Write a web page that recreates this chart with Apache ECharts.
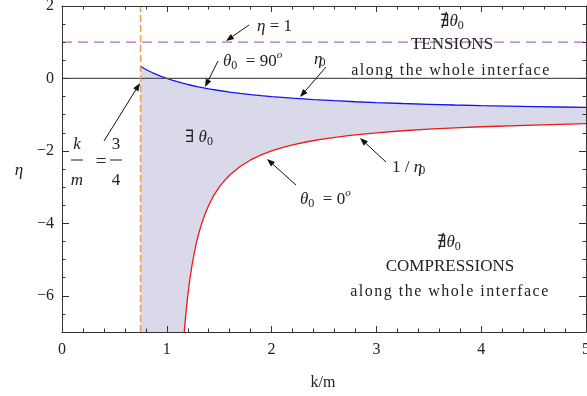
<!DOCTYPE html>
<html>
<head>
<meta charset="utf-8">
<script src="https://cdn.jsdelivr.net/npm/echarts@6/dist/echarts.min.js"></script>
<style>
  html, body { margin: 0; padding: 0; background: #fff; }
  #chart { width: 587px; height: 396px; }
</style>
</head>
<body>
<div id="chart"></div>
<script>
// eta_0 boundary (theta_0 = 90°) sampled along k/m
const etaX = [0.75, 0.78, 0.82, 0.86, 0.9, 0.95, 1.0, 1.05, 1.1, 1.15, 1.2, 1.3, 1.4, 1.5, 1.6, 1.7, 1.8, 1.9, 2.0, 2.2, 2.4, 2.6, 2.8, 3.0, 3.25, 3.5, 3.75, 4.0, 4.25, 4.5, 4.75, 5.0];
const etaY = [0.333, 0.282, 0.22, 0.163, 0.111, 0.053, 0.0, -0.048, -0.091, -0.13, -0.167, -0.231, -0.286, -0.333, -0.375, -0.412, -0.444, -0.474, -0.5, -0.545, -0.583, -0.615, -0.643, -0.667, -0.692, -0.714, -0.733, -0.75, -0.765, -0.778, -0.789, -0.8];

// 1/eta_0 boundary (theta_0 = 0°)
const invX = [1.165, 1.17, 1.18, 1.19, 1.2, 1.21, 1.22, 1.24, 1.26, 1.28, 1.3, 1.33, 1.36, 1.4, 1.45, 1.5, 1.55, 1.6, 1.7, 1.8, 1.9, 2.0, 2.1, 2.2, 2.35, 2.5, 2.75, 3.0, 3.25, 3.5, 3.75, 4.0, 4.5, 5.0];
const invY = [-7.06, -6.88, -6.56, -6.26, -6.0, -5.76, -5.55, -5.17, -4.85, -4.57, -4.33, -4.03, -3.78, -3.5, -3.22, -3.0, -2.82, -2.667, -2.429, -2.25, -2.111, -2.0, -1.909, -1.833, -1.741, -1.667, -1.571, -1.5, -1.444, -1.4, -1.364, -1.333, -1.286, -1.25];

// reference lines
const kmLimit = 0.75;      // k/m = 3/4
const etaOne = 1;          // eta = 1
const xRange = [0, 5];
const yRange = [-7, 2];
const yMajorTicks = [-6, -4, -2, 0, 2];

const SERIF = '"Liberation Serif", "DejaVu Serif", serif';
const INK = '#222';

const zip = (xs, ys) => xs.map((x, i) => [x, ys[i]]);
const fmtMinus = v => (v < 0 ? '\u2212' + (-v) : String(v));

const chart = echarts.init(document.getElementById('chart'), null, { renderer: 'canvas' });

const frameLine = { show: true, onZero: false, lineStyle: { color: '#333', width: 1 } };
const tickStyle = { color: '#333', width: 1 };

function xAxisDef(pos, labels) {
  return {
    type: 'value', position: pos, min: xRange[0], max: xRange[1], interval: 1, z: 10,
    axisLine: frameLine,
    axisTick: { show: true, inside: true, length: 6, lineStyle: tickStyle },
    minorTick: { show: true, splitNumber: 5, length: 3.5, lineStyle: tickStyle },
    axisLabel: { show: labels, fontFamily: SERIF, fontSize: 16, color: INK, margin: 10, hideOverlap: false },
    splitLine: { show: false }
  };
}
function yMinorDef(pos) {
  return {
    type: 'value', position: pos, min: yRange[0], max: yRange[1], interval: 0.5, z: 10,
    axisLine: frameLine,
    axisTick: { show: true, inside: true, length: 3.5, lineStyle: tickStyle },
    axisLabel: { show: false },
    splitLine: { show: false }
  };
}
function yMajorDef(pos, labels) {
  return {
    type: 'value', position: pos, min: yRange[0], max: yRange[1], z: 10,
    axisLine: { show: false, onZero: false },
    axisTick: { show: true, inside: true, length: 7, lineStyle: tickStyle, customValues: yMajorTicks },
    axisLabel: { show: labels, customValues: yMajorTicks, formatter: fmtMinus,
                 fontFamily: SERIF, fontSize: 16, color: INK, margin: 8 },
    splitLine: { show: false }
  };
}

// helpers for the annotations
const mctx = document.createElement('canvas').getContext('2d');
function fontOf(r) { return (r.it ? 'italic ' : '') + (r.size || 17) + 'px ' + SERIF; }
function mathText(x, y, runs, align) {
  const widths = runs.map(r => { mctx.font = fontOf(r); return mctx.measureText(r.t).width + (r.dx || 0) + (r.gap || 0); });
  const total = widths.reduce((a, b) => a + b, 0);
  let cx = align === 'center' ? x - total / 2 : x;
  const out = [];
  runs.forEach((r, i) => {
    out.push({
      type: 'text', x: cx + (r.dx || 0), y: y + (r.dy || 0), z: 100,
      style: { text: r.t, font: fontOf(r), fill: INK, align: 'left', verticalAlign: 'middle' }
    });
    cx += widths[i];
  });
  return out;
}
// text with widened letter spacing
function spaced(x, y, str, size, gap) {
  return mathText(x, y, Array.from(str).map(ch => ({ t: ch, size, gap })), 'center');
}
function arrow(x1, y1, x2, y2) {
  const dx = x2 - x1, dy = y2 - y1, L = Math.hypot(dx, dy);
  const ux = dx / L, uy = dy / L, hl = 8, hw = 3;
  const bx = x2 - ux * hl, by = y2 - uy * hl;
  return [
    { type: 'line', z: 100, shape: { x1, y1, x2: bx, y2: by }, style: { stroke: '#111', lineWidth: 1 } },
    { type: 'polygon', z: 100, shape: { points: [[x2, y2], [bx - uy * hw, by + ux * hw], [bx + uy * hw, by - ux * hw]] },
      style: { fill: '#111' } }
  ];
}
function hbar(x1, x2, y) {
  return { type: 'line', z: 100, shape: { x1, y1: y, x2, y2: y }, style: { stroke: INK, lineWidth: 1 } };
}

const sub = t => ({ t, size: 12, dy: 4 });
const graphics = [].concat(
  mathText(257, 27, [{ t: '\u03B7', it: true }, { t: ' = 1' }]),
  arrow(249, 25, 226, 41),
  mathText(223, 62, [{ t: '\u03B8', it: true }, sub('0'), { t: '  = 90' }, { t: 'o', it: true, size: 11, dy: -7 }]),
  arrow(218, 61, 205, 87),
  mathText(314, 60, [{ t: '\u03B7', it: true }, { t: '0', size: 12, dy: 3, dx: -3 }]),
  arrow(326, 67, 300, 97),
  mathText(452, 22, [{ t: '\u2204' }, { t: '\u03B8', it: true }, sub('0')], 'center'),
  mathText(452, 45, [{ t: 'TENSIONS' }], 'center'),
  spaced(451, 71, 'along the whole interface', 16, 1.5),
  mathText(199, 138, [{ t: '\u2203 ' }, { t: '\u03B8', it: true }, sub('0')], 'center'),
  mathText(300, 200, [{ t: '\u03B8', it: true }, sub('0'), { t: '  = 0' }, { t: 'o', it: true, size: 11, dy: -7 }]),
  arrow(296, 185, 267, 159),
  mathText(392, 168, [{ t: '1 / ' }, { t: '\u03B7', it: true }, { t: '0', size: 12, dy: 3, dx: -3 }]),
  arrow(386, 162, 360, 138),
  mathText(449, 243, [{ t: '\u2204' }, { t: '\u03B8', it: true }, sub('0')], 'center'),
  mathText(450, 267, [{ t: 'COMPRESSIONS' }], 'center'),
  spaced(450, 292, 'along the whole interface', 16, 1.5),
  // k/m = 3/4
  mathText(77, 145, [{ t: 'k', it: true }], 'center'),
  hbar(71, 83, 160),
  mathText(77, 181, [{ t: 'm', it: true }], 'center'),
  mathText(101, 162, [{ t: '=', size: 19 }], 'center'),
  mathText(116, 145, [{ t: '3' }], 'center'),
  hbar(110, 122, 160),
  mathText(116, 181, [{ t: '4' }], 'center'),
  arrow(104, 141, 140, 83),
  // axis titles
  mathText(19, 171, [{ t: '\u03B7', it: true }], 'center'),
  mathText(323, 383, [{ t: 'k/m', size: 16 }], 'center')
);

chart.setOption({
  animation: false,
  backgroundColor: '#fff',
  grid: { left: 62, right: 1, top: 6, bottom: 64, containLabel: false, outerBoundsMode: 'none' },
  xAxis: [xAxisDef('bottom', true), xAxisDef('top', false)],
  yAxis: [yMinorDef('left'), yMajorDef('left', true), yMinorDef('right'), yMajorDef('right', false)],
  series: [
    {
      name: 'eta0', type: 'line', xAxisIndex: 0, yAxisIndex: 0, z: 2,
      data: zip(etaX, etaY), showSymbol: false, smooth: false,
      lineStyle: { color: '#1414f0', width: 1.3 },
      areaStyle: { color: '#d9d9ea', opacity: 1, origin: 'start' }
    },
    {
      name: 'inv', type: 'line', xAxisIndex: 0, yAxisIndex: 0, z: 3,
      data: zip(invX, invY), showSymbol: false, smooth: false,
      lineStyle: { color: '#ee1818', width: 1.3 },
      areaStyle: { color: '#ffffff', opacity: 1, origin: 'start' }
    },
    {
      name: 'zero', type: 'line', xAxisIndex: 0, yAxisIndex: 0, z: 4,
      data: [[xRange[0], 0], [xRange[1], 0]], showSymbol: false,
      lineStyle: { color: '#555', width: 1.2 }
    },
    {
      name: 'etaOne', type: 'line', xAxisIndex: 0, yAxisIndex: 0, z: 5,
      data: [[xRange[0], etaOne], [xRange[1], etaOne]], showSymbol: false,
      lineStyle: { color: '#b564c6', width: 1.3, type: [10, 6] }
    },
    {
      name: 'kmLimit', type: 'line', xAxisIndex: 0, yAxisIndex: 0, z: 5,
      data: [[kmLimit, yRange[0]], [kmLimit, yRange[1]]], showSymbol: false,
      lineStyle: { color: '#f0a050', width: 1.6, type: [7, 3] }
    }
  ],
  graphic: graphics
});
</script>
</body>
</html>
